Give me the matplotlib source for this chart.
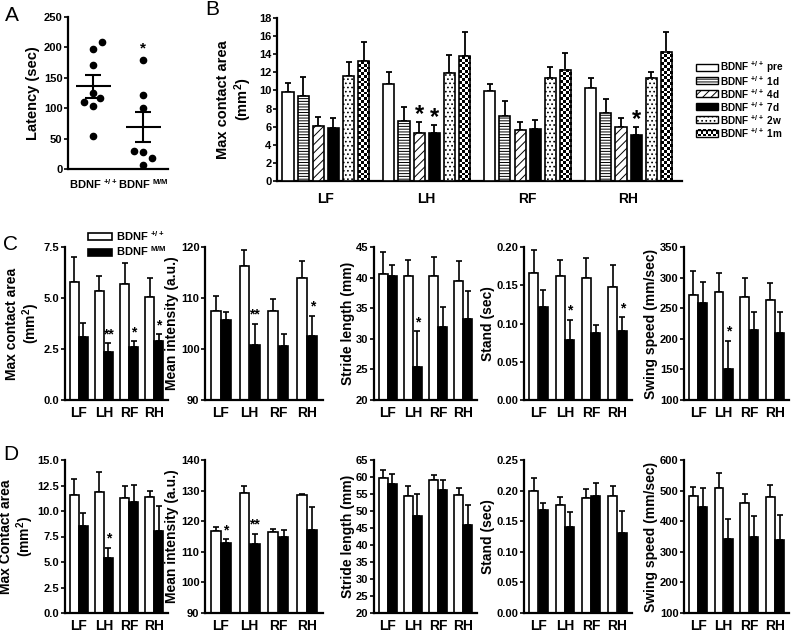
import numpy as np
import matplotlib
matplotlib.use('Agg')
import matplotlib.pyplot as plt
from matplotlib.patches import Rectangle

plt.rcParams['font.family'] = ['Liberation Sans', 'DejaVu Sans']
plt.rcParams['font.weight'] = 'bold'
plt.rcParams['axes.labelweight'] = 'bold'
plt.rcParams['mathtext.fontset'] = 'custom'
plt.rcParams['mathtext.bf'] = 'Liberation Sans:bold'
plt.rcParams['mathtext.rm'] = 'Liberation Sans:bold'
plt.rcParams['mathtext.default'] = 'bf'
plt.rcParams['hatch.linewidth'] = 0.7

# ---------------- data ----------------
# A: latency
latency_wt = [209, 197, 171, 125, 117, 110, 104, 54]
latency_wt_jitter = [0.18, 0, 0, 0, 0.14, -0.19, 0, 0]
latency_mm = [180, 122, 101, 30, 28, 18, 7]
latency_mm_jitter = [0, 0, 0, -0.19, 0, 0.18, 0]
genotypes = ['BDNF $^{+/+}$', 'BDNF $^{M/M}$']

# B: max contact area after injury (BDNF +/+)
limbs = ['LF', 'LH', 'RF', 'RH']
timepoints = ['pre', '1d', '4d', '7d', '2w', '1m']
b_mean = {
    'pre': [9.8, 10.7, 9.9, 10.3],
    '1d': [9.35, 6.6, 7.15, 7.55],
    '4d': [6.05, 5.35, 5.65, 5.95],
    '7d': [5.8, 5.35, 5.75, 5.1],
    '2w': [11.6, 11.9, 11.35, 11.4],
    '1m': [13.2, 13.8, 12.3, 14.25],
}
b_sem = {
    'pre': [1.0, 1.3, 0.8, 1.1],
    '1d': [2.15, 1.55, 1.65, 1.5],
    '4d': [1.0, 1.2, 0.85, 1.0],
    '7d': [1.2, 0.8, 1.0, 0.9],
    '2w': [1.55, 2.0, 1.2, 0.65],
    '1m': [2.15, 2.6, 1.8, 2.15],
}
b_stars = [('LH', '4d'), ('LH', '7d'), ('RH', '7d')]

# C: gait, uninjured
c_contact_wt = [5.77, 5.32, 5.69, 5.06]
c_contact_wt_sem = [1.23, 0.76, 1.01, 0.91]
c_contact_mm = [3.1, 2.34, 2.58, 2.87]
c_contact_mm_sem = [0.66, 0.43, 0.29, 0.36]
c_contact_stars = ['', '**', '*', '*']

c_intensity_wt = [107.5, 116.2, 107.5, 114.0]
c_intensity_wt_sem = [2.9, 3.3, 2.4, 3.3]
c_intensity_mm = [105.6, 100.8, 100.6, 102.5]
c_intensity_mm_sem = [1.6, 4.2, 2.3, 4.0]
c_intensity_stars = ['', '**', '', '*']

c_stride_wt = [40.6, 40.2, 40.2, 39.5]
c_stride_wt_sem = [3.6, 2.6, 3.1, 3.2]
c_stride_mm = [40.3, 25.4, 32.0, 33.3]
c_stride_mm_sem = [1.7, 5.8, 3.2, 4.5]
c_stride_stars = ['', '*', '', '']

c_stand_wt = [0.166, 0.162, 0.159, 0.148]
c_stand_wt_sem = [0.030, 0.021, 0.026, 0.028]
c_stand_mm = [0.121, 0.078, 0.087, 0.090]
c_stand_mm_sem = [0.023, 0.027, 0.011, 0.018]
c_stand_stars = ['', '*', '', '*']

c_swing_wt = [271, 277, 268, 263]
c_swing_wt_sem = [40, 31, 32, 28]
c_swing_mm = [258, 151, 214, 210]
c_swing_mm_sem = [35, 46, 30, 34]
c_swing_stars = ['', '*', '', '']

# D: gait, second cohort
d_contact_wt = [11.6, 11.9, 11.3, 11.35]
d_contact_wt_sem = [1.55, 1.95, 1.2, 0.65]
d_contact_mm = [8.5, 5.35, 10.9, 8.05]
d_contact_mm_sem = [1.35, 1.05, 1.65, 2.45]
d_contact_stars = ['', '*', '', '']

d_intensity_wt = [116.7, 129.2, 116.4, 128.5]
d_intensity_wt_sem = [1.3, 2.2, 0.9, 0.4]
d_intensity_mm = [113.0, 112.5, 114.9, 117.0]
d_intensity_mm_sem = [1.1, 3.4, 2.1, 7.8]
d_intensity_stars = ['*', '**', '', '']

d_stride_wt = [59.6, 54.3, 59.0, 54.8]
d_stride_wt_sem = [2.4, 3.1, 1.7, 2.0]
d_stride_mm = [57.9, 48.5, 56.2, 45.9]
d_stride_mm_sem = [3.0, 6.5, 3.0, 6.0]
d_stride_stars = ['', '', '', '']

d_stand_wt = [0.200, 0.176, 0.188, 0.191]
d_stand_wt_sem = [0.020, 0.013, 0.015, 0.017]
d_stand_mm = [0.168, 0.141, 0.191, 0.130]
d_stand_mm_sem = [0.011, 0.024, 0.022, 0.036]
d_stand_stars = ['', '', '', '']

d_swing_wt = [481, 507, 461, 478]
d_swing_wt_sem = [32, 51, 28, 39]
d_swing_mm = [445, 342, 349, 338]
d_swing_mm_sem = [62, 66, 69, 83]
d_swing_stars = ['', '', '', '']

# ---------------- layout helpers ----------------
W, H = 791, 632
fig = plt.figure(figsize=(W / 100, H / 100), dpi=100)


def add_axes_px(left, top, right, bottom):
    return fig.add_axes([left / W, 1 - bottom / H, (right - left) / W, (bottom - top) / H])


def style_axes(ax, xlabelsize=10, xpad=4):
    for s in ('top', 'right'):
        ax.spines[s].set_visible(False)
    for s in ('left', 'bottom'):
        ax.spines[s].set_linewidth(1.6)
    ax.tick_params(axis='y', direction='out', length=3, width=1.2, labelsize=8, pad=1)
    ax.tick_params(axis='x', length=0, labelsize=xlabelsize, pad=xpad)


def checker_bar(ax, x, w, h, px_per_unit):
    # checkerboard fill for the "1m" bars
    nrows = max(1, int(round(h * px_per_unit / 2.8)))
    img = np.add.outer(np.arange(nrows), np.arange(4)) % 2
    ax.imshow(img, cmap='gray_r', extent=(x - w / 2, x + w / 2, 0, h), aspect='auto',
              interpolation='nearest', origin='lower', zorder=2)


# ---------------- A ----------------
axA = add_axes_px(68, 17, 168, 169)
style_axes(axA, xlabelsize=8, xpad=6)
for xc, vals, jit in [(1, latency_wt, latency_wt_jitter), (2, latency_mm, latency_mm_jitter)]:
    vals = np.array(vals, dtype=float)
    axA.plot(xc + np.array(jit), vals, 'o', color='black', ms=4.5, zorder=3)
    m = vals.mean()
    sem = vals.std(ddof=1) / np.sqrt(len(vals))
    axA.hlines(m, xc - 0.35, xc + 0.35, color='black', lw=1.5)
    axA.errorbar(xc, m, yerr=sem, fmt='none', ecolor='black', elinewidth=1.5,
                 capsize=6, capthick=1.5)
axA.annotate('*', (2, max(latency_mm)), xytext=(0, 3), textcoords='offset points',
             ha='center', va='bottom', fontsize=11)
axA.set_xlim(0.5, 2.5)
axA.set_ylim(0, 250)
axA.set_yticks(np.arange(0, 251, 50))
axA.set_xticks([1, 2])
axA.set_xticklabels(genotypes)
axA.set_ylabel('Latency (sec)', fontsize=10.5, labelpad=3)

# ---------------- B ----------------
axB = add_axes_px(277, 18, 682, 181)
style_axes(axB, xlabelsize=10, xpad=8)
b_styles = {
    'pre': dict(color='white', hatch=None),
    '1d': dict(color='white', hatch='------'),
    '4d': dict(color='white', hatch='////'),
    '7d': dict(color='black', hatch=None),
    '2w': dict(color='white', hatch='....'),
    '1m': dict(color='white', hatch=None),
}
xg = np.arange(len(limbs))
bw = 0.11
bstep = 0.15
b_px_per_unit = 163 / 18
for k, tp in enumerate(timepoints):
    xb = xg + (k - 2.5) * bstep
    mean = np.array(b_mean[tp])
    sem = np.array(b_sem[tp])
    st = b_styles[tp]
    if tp == '1m':
        for xi, hi in zip(xb, mean):
            checker_bar(axB, xi, bw, hi, b_px_per_unit)
        axB.bar(xb, mean, bw, facecolor='none', edgecolor='black', linewidth=1.2, zorder=3)
    else:
        axB.bar(xb, mean, bw, color=st['color'], edgecolor='black', hatch=st['hatch'],
                linewidth=1.2, zorder=3)
    axB.errorbar(xb, mean, yerr=[np.zeros(len(mean)), sem], fmt='none', ecolor='black',
                 elinewidth=1.3, capsize=2.5, capthick=1.3, zorder=1)
for limb, tp in b_stars:
    i = limbs.index(limb)
    k = timepoints.index(tp)
    axB.annotate('*', (i + (k - 2.5) * bstep, b_mean[tp][i] + b_sem[tp][i]), xytext=(0, -3),
                 textcoords='offset points', ha='center', va='bottom', fontsize=17)
axB.set_xlim(-0.484, 3.53)
axB.set_ylim(0, 18)
axB.set_yticks(np.arange(0, 19, 2))
axB.set_xticks(xg)
axB.set_xticklabels(limbs)
axB.set_ylabel('Max contact area\n(mm$^2$)', fontsize=10.5, labelpad=4, linespacing=1.15)

# legend B (manual so the checker swatch matches)
lax = fig.add_axes([695 / W, 1 - 140 / H, 96 / W, 80 / H])
lax.axis('off')
for k, tp in enumerate(timepoints):
    yc = 67 + k * 13.2
    st = b_styles[tp]
    if tp == '1m':
        img = np.add.outer(np.arange(3), np.arange(9)) % 2
        lax.imshow(img, cmap='gray_r', extent=(696, 718, yc + 3.5, yc - 3.5), aspect='auto',
                   interpolation='nearest', zorder=2)
        lax.add_patch(Rectangle((696, yc - 3.5), 22, 7, facecolor='none', edgecolor='black',
                                lw=1.0, zorder=3))
    else:
        lax.add_patch(Rectangle((696, yc - 3.5), 22, 7, facecolor=st['color'], edgecolor='black',
                                hatch=st['hatch'], lw=1.0))
    lax.text(720, yc + 0.5, 'BDNF $^{+/+}$ ' + tp, fontsize=7.2, va='center', ha='left')
lax.set_xlim(695, 791)
lax.set_ylim(140, 60)

# ---------------- C and D ----------------
def paired_panel(box, wt, wt_sem, mm, mm_sem, stars, ylabel, ylim, ystep, fmt):
    ax = add_axes_px(*box)
    style_axes(ax, xlabelsize=10, xpad=4)
    x = np.arange(len(limbs))
    w = 0.34
    off = 0.18
    ax.bar(x - off, wt, w, color='white', edgecolor='black', linewidth=1.2, zorder=2)
    ax.bar(x + off, mm, w, color='black', edgecolor='black', linewidth=1.2, zorder=2)
    ax.errorbar(x - off, wt, yerr=[np.zeros(len(wt)), wt_sem], fmt='none', ecolor='black',
                elinewidth=1.2, capsize=2.2, capthick=1.2, zorder=1)
    ax.errorbar(x + off, mm, yerr=[np.zeros(len(mm)), mm_sem], fmt='none', ecolor='black',
                elinewidth=1.2, capsize=2.2, capthick=1.2, zorder=1)
    for i, s in enumerate(stars):
        if s:
            ax.annotate(s, (x[i] + off, mm[i] + mm_sem[i]), xytext=(0, 1.5),
                        textcoords='offset points', ha='center', va='bottom', fontsize=10)
    ax.set_xlim(-0.55, 3.55)
    ax.set_ylim(*ylim)
    ticks = np.arange(ylim[0], ylim[1] + ystep / 2, ystep)
    ax.set_yticks(ticks)
    ax.set_yticklabels([fmt % t for t in ticks])
    ax.set_xticks(x)
    ax.set_xticklabels(limbs)
    ax.set_ylabel(ylabel, fontsize=10, labelpad=1, linespacing=1.1)
    return ax


c_top, c_bot = 247, 400
d_top, d_bot = 460, 613
cols = [(65, 168), (205, 323), (374, 477), (524, 632), (684, 789)]

paired_panel((cols[0][0], c_top, cols[0][1], c_bot), c_contact_wt, c_contact_wt_sem,
             c_contact_mm, c_contact_mm_sem, c_contact_stars,
             'Max contact area\n(mm$^2$)', (0, 7.5), 2.5, '%.1f')
paired_panel((cols[1][0], c_top, cols[1][1], c_bot), c_intensity_wt, c_intensity_wt_sem,
             c_intensity_mm, c_intensity_mm_sem, c_intensity_stars,
             'Mean intensity (a.u.)', (90, 120), 10, '%d')
paired_panel((cols[2][0], c_top, cols[2][1], c_bot), c_stride_wt, c_stride_wt_sem,
             c_stride_mm, c_stride_mm_sem, c_stride_stars,
             'Stride length (mm)', (20, 45), 5, '%d')
paired_panel((cols[3][0], c_top, cols[3][1], c_bot), c_stand_wt, c_stand_wt_sem,
             c_stand_mm, c_stand_mm_sem, c_stand_stars,
             'Stand (sec)', (0, 0.20), 0.05, '%.2f')
paired_panel((cols[4][0], c_top, cols[4][1], c_bot), c_swing_wt, c_swing_wt_sem,
             c_swing_mm, c_swing_mm_sem, c_swing_stars,
             'Swing speed (mm/sec)', (100, 350), 50, '%d')

paired_panel((cols[0][0], d_top, cols[0][1], d_bot), d_contact_wt, d_contact_wt_sem,
             d_contact_mm, d_contact_mm_sem, d_contact_stars,
             'Max Contact area\n(mm$^2$)', (0, 15), 2.5, '%.1f')
paired_panel((cols[1][0], d_top, cols[1][1], d_bot), d_intensity_wt, d_intensity_wt_sem,
             d_intensity_mm, d_intensity_mm_sem, d_intensity_stars,
             'Mean intensity (a.u.)', (90, 140), 10, '%d')
paired_panel((cols[2][0], d_top, cols[2][1], d_bot), d_stride_wt, d_stride_wt_sem,
             d_stride_mm, d_stride_mm_sem, d_stride_stars,
             'Stride length (mm)', (20, 65), 5, '%d')
paired_panel((cols[3][0], d_top, cols[3][1], d_bot), d_stand_wt, d_stand_wt_sem,
             d_stand_mm, d_stand_mm_sem, d_stand_stars,
             'Stand (sec)', (0, 0.25), 0.05, '%.2f')
paired_panel((cols[4][0], d_top, cols[4][1], d_bot), d_swing_wt, d_swing_wt_sem,
             d_swing_mm, d_swing_mm_sem, d_swing_stars,
             'Swing speed (mm/sec)', (100, 600), 100, '%d')

# legend for C/D
handles = [Rectangle((0, 0), 1, 1, facecolor='white', edgecolor='black', lw=1.2),
           Rectangle((0, 0), 1, 1, facecolor='black', edgecolor='black', lw=1.2)]
fig.legend(handles, genotypes, loc='upper left', bbox_to_anchor=(88 / W, 1 - 229 / H),
           frameon=False, fontsize=8, handlelength=2.2, handleheight=0.6,
           labelspacing=0.15, handletextpad=0.3, borderpad=0, borderaxespad=0)

# panel letters
for letter, (px, py) in zip('ABCD', [(5, 21), (205, 15), (3, 250), (3, 460)]):
    fig.text(px / W, 1 - py / H, letter, fontsize=15, fontweight='normal', ha='left', va='baseline')

fig.savefig('out.png', dpi=100)
